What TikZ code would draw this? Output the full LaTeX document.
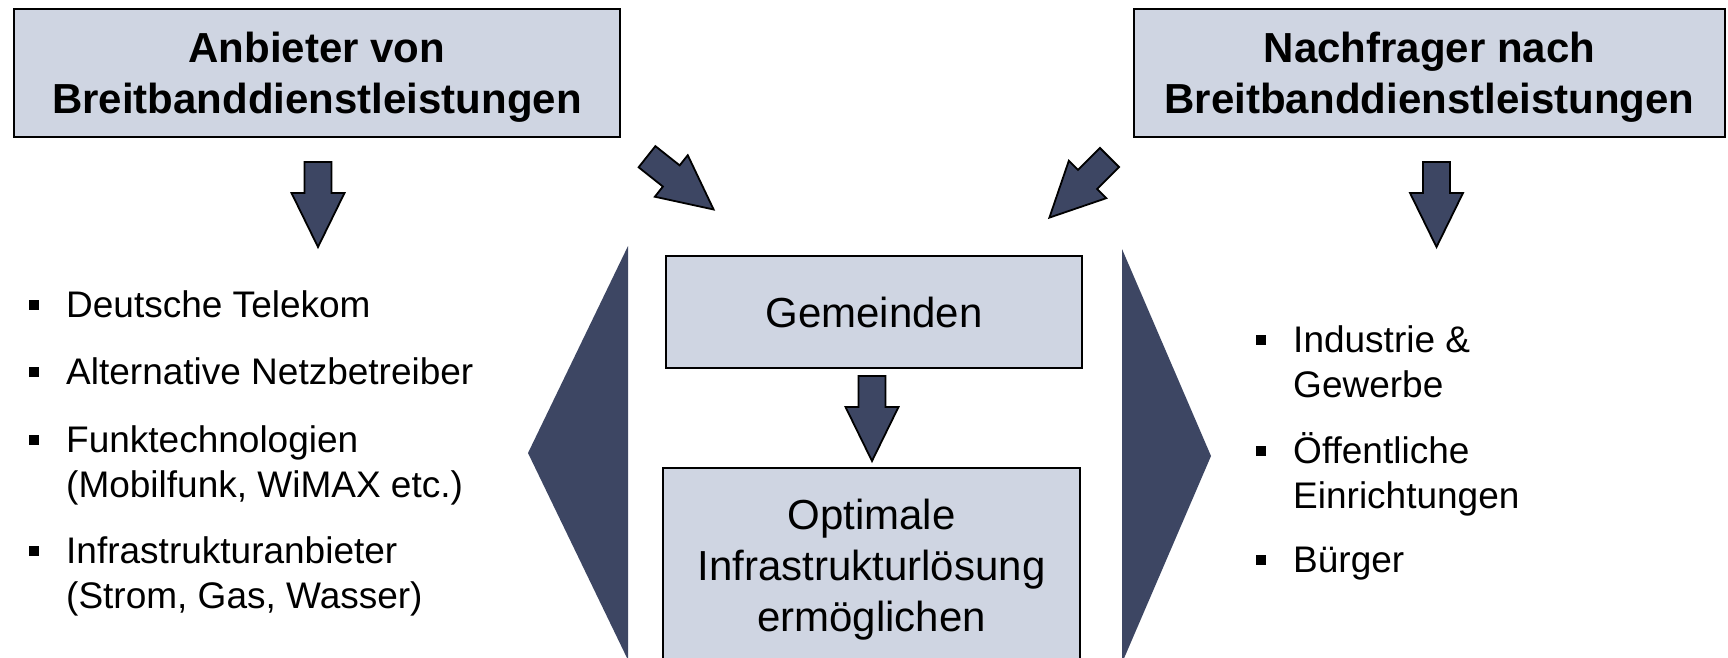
\documentclass[tikz,border=0pt]{standalone}
\usepackage{fontspec}
\setmainfont{Liberation Sans}
\definecolor{boxfill}{HTML}{CFD5E2}
\definecolor{navy}{HTML}{3D4663}
\tikzset{
  titlebox/.style={draw=black, line width=1.6pt, fill=boxfill, inner sep=0pt},
  titletext/.style={align=center, font=\fontsize{42}{51}\selectfont\bfseries, inner sep=0pt},
  midbox/.style={draw=black, line width=1.6pt, fill=boxfill, align=center,
    font=\fontsize{42}{51}\selectfont, inner sep=0pt},
  midtext/.style={align=center, font=\fontsize{42}{51}\selectfont, inner sep=0pt},
  listitem/.style={align=left, anchor=base west, inner sep=0pt,
    font=\fontsize{37}{45}\selectfont},
  arrowshape/.style={draw=black, line width=1.8pt, fill=navy, line join=miter},
  wedge/.style={fill=navy},
  pics/blockarrow/.style={code={
    \draw[arrowshape] (0,-13.5) -- (31,-13.5) -- (31,-26.5) -- (85,0)
      -- (31,26.5) -- (31,13.5) -- (0,13.5) -- cycle;}}
}
% #1: name of the item node, #2: vertical offset of the bullet above the node's last baseline
\newcommand{\bulletat}[2]{\fill[black] ([xshift=-37pt,yshift=#2pt]#1.base west) rectangle ++(10,-10);}
\begin{document}
\begin{tikzpicture}[x=1pt,y=-1pt]
\clip (0,0) rectangle (1728,657);
\fill[white] (0,0) rectangle (1728,657);

% top boxes
\node[titlebox, minimum width=606pt, minimum height=128pt] (anb) at (317,73) {};
\node[titletext] (anbt) at (317,77.5) {Anbieter von\\Breitbanddienstleistungen};
\node[titlebox, minimum width=591pt, minimum height=128pt] (nach) at (1429.5,73) {};
\node[titletext] (nacht) at (1429.5,77.5) {Nachfrager nach\\Breitbanddienstleistungen};

% block arrows
\coordinate (a1) at (318,162);
\coordinate (a2) at (1436.5,162);
\coordinate (a3) at (647,156.7);
\coordinate (a4) at (1109.5,157.5);
\coordinate (a5) at (872,376);
\pic[rotate=-90] at (a1) {blockarrow};
\pic[rotate=-90] at (a2) {blockarrow};
\pic[rotate=-38.4] at (a3) {blockarrow};
\pic[rotate=-135] at (a4) {blockarrow};
\pic[rotate=-90] at (a5) {blockarrow};

% wedges
\fill[wedge] (628,246) -- (528,453) -- (628,660) -- cycle;
\fill[wedge] (1122,249) -- (1211,456) -- (1122,663) -- cycle;

% centre boxes
\node[midbox, minimum width=416pt, minimum height=112pt] (gem) at (874,312) {Gemeinden};
\draw[line width=1.6pt, fill=boxfill] (663,700) -- (663,468) -- (1080,468) -- (1080,700);
\node[midtext] (opt) at (871.5,570) {Optimale\\Infrastrukturlösung\\ermöglichen};

% left list
\node[listitem] (l1) at (66,317) {Deutsche Telekom};
\node[listitem] (l2) at (66,384) {Alternative Netzbetreiber};
\node[listitem] (l3) at (66,497) {Funktechnologien\\(Mobilfunk, WiMAX etc.)};
\node[listitem] (l4) at (66,608) {Infrastrukturanbieter\\(Strom, Gas, Wasser)};
\bulletat{l1}{7}\bulletat{l2}{7}\bulletat{l3}{52}\bulletat{l4}{52}

% right list
\node[listitem] (r1) at (1293,397) {Industrie \&\\Gewerbe};
\node[listitem] (r2) at (1293,508) {Öffentliche\\Einrichtungen};
\node[listitem] (r3) at (1293,572) {Bürger};
\bulletat{r1}{52}\bulletat{r2}{52}\bulletat{r3}{7}
\end{tikzpicture}
\end{document}
